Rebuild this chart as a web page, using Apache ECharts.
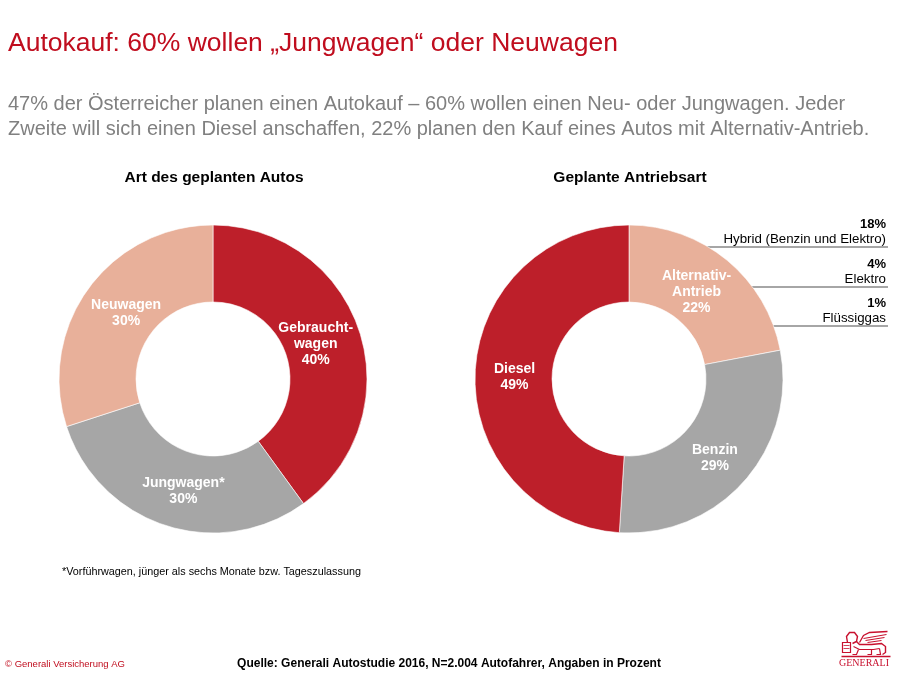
<!DOCTYPE html>
<html>
<head>
<meta charset="utf-8">
<script src="https://cdn.jsdelivr.net/npm/echarts@6/dist/echarts.min.js"></script>
<style>html,body{margin:0;padding:0;background:#fff}#c{width:900px;height:684px}</style>
</head>
<body>
<div id="c"></div>
<script>
// Data
const typeCategories = ['Gebraucht-\nwagen', 'Jungwagen*', 'Neuwagen'];
const typeValues = [40, 30, 30];
const driveCategories = ['Alternativ-\nAntrieb', 'Benzin', 'Diesel'];
const driveValues = [22, 29, 49];
const altTypes = ['Hybrid (Benzin und Elektro)', 'Elektro', 'Flüssiggas'];
const altValues = [18, 4, 1];

const RED = '#BD1F2A', GREY = '#A6A6A6', PEACH = '#E8B09A', LOGO = '#C8102E';
const FONT = '"Liberation Sans", Arial, sans-serif';
const CX1 = 213, CX2 = 629, CY = 379, R_IN = 77, R_OUT = 154;

// label nudges (style only), same order as the categories
const typeLabelOffsets = [[-10, 2], [7, -1], [9, 4]];
const driveLabelOffsets = [[-8, 4], [-3, 1], [4, 2]];

const chart = echarts.init(document.getElementById('c'));

function pieData(cats, vals, colors, offsets) {
  return cats.map((c, i) => ({ name: c, value: vals[i], itemStyle: { color: colors[i] },
    label: { offset: offsets[i] } }));
}

const labelStyle = {
  show: true, position: 'inside', color: '#fff', fontFamily: FONT,
  fontWeight: 'bold', fontSize: 14, lineHeight: 16,
  formatter: p => p.name + '\n' + p.value + '%'
};

const legendGraphics = [];
const lineYs = [247, 287, 326];
altTypes.forEach((t, i) => {
  const y = lineYs[i];
  const dy = CY - y;
  const xStart = CX2 + Math.sqrt(R_OUT * R_OUT - dy * dy) - 2;
  legendGraphics.push({ type: 'text', right: 14, top: y - 29, z: 10,
    style: { text: altValues[i] + '%', font: 'bold 13px ' + FONT, fill: '#000', textAlign: 'right' } });
  legendGraphics.push({ type: 'text', right: 14, top: y - 14, z: 10,
    style: { text: t, font: '13.3px ' + FONT, fill: '#000', textAlign: 'right' } });
  legendGraphics.push({ type: 'line', z: 0,
    shape: { x1: xStart, y1: y, x2: 888, y2: y },
    style: { stroke: GREY, lineWidth: 2 } });
});

const st = w => ({ fill: 'none', stroke: LOGO, lineWidth: w });
const logo = { type: 'group', left: 839, top: 629, z: 10, children: [
  { type: 'rect', shape: { x: 1, y: 12, width: 8, height: 10 }, style: st(1.2) },
  { type: 'line', shape: { x1: 2, y1: 15, x2: 8, y2: 15 }, style: st(0.8) },
  { type: 'line', shape: { x1: 2, y1: 18, x2: 8, y2: 18 }, style: st(0.8) },
  { type: 'polyline', shape: { points: [[6, 12], [5, 6], [8, 2], [13, 2], [16, 6], [15, 11], [11, 13]] }, style: st(1.4) },
  { type: 'polyline', shape: { points: [[15, 11], [18, 14], [30, 14], [40, 13], [44, 16], [44, 22], [41, 24]] }, style: st(1.4) },
  { type: 'polyline', shape: { points: [[12, 16], [18, 19], [32, 19], [38, 18]] }, style: st(1.2) },
  { type: 'polyline', shape: { points: [[17, 19], [15, 24], [11, 24]] }, style: st(1.2) },
  { type: 'polyline', shape: { points: [[30, 19], [30, 24], [26, 24]] }, style: st(1.2) },
  { type: 'polyline', shape: { points: [[38, 18], [39, 24], [35, 24]] }, style: st(1.2) },
  { type: 'polyline', shape: { points: [[18, 12], [22, 5], [28, 2], [46, 1]] }, style: st(1.3) },
  { type: 'line', shape: { x1: 22, y1: 8, x2: 45, y2: 4 }, style: st(1) },
  { type: 'line', shape: { x1: 24, y1: 10, x2: 43, y2: 7 }, style: st(1) },
  { type: 'line', shape: { x1: 26, y1: 12, x2: 40, y2: 10 }, style: st(1) },
  { type: 'line', shape: { x1: 0, y1: 26, x2: 49, y2: 26 }, style: st(1.3) }
] };

const titleBase = { padding: 0 };
chart.setOption({
  animation: false,
  title: [
    Object.assign({ text: 'Autokauf: 60% wollen „Jungwagen“ oder Neuwagen', left: 8, top: 30,
      textStyle: { color: '#C00D1E', fontFamily: FONT, fontWeight: 'normal', fontSize: 26.5 } }, titleBase),
    Object.assign({ text: '47% der Österreicher planen einen Autokauf – 60% wollen einen Neu- oder Jungwagen. Jeder\nZweite will sich einen Diesel anschaffen, 22% planen den Kauf eines Autos mit Alternativ-Antrieb.',
      left: 8, top: 92,
      textStyle: { color: '#808080', fontFamily: FONT, fontWeight: 'normal', fontSize: 20, lineHeight: 25 } }, titleBase),
    Object.assign({ text: 'Art des geplanten Autos', left: 214, top: 170, textAlign: 'center',
      textStyle: { color: '#000', fontFamily: FONT, fontWeight: 'bold', fontSize: 15.5 } }, titleBase),
    Object.assign({ text: 'Geplante Antriebsart', left: 630, top: 170, textAlign: 'center',
      textStyle: { color: '#000', fontFamily: FONT, fontWeight: 'bold', fontSize: 15.5 } }, titleBase),
    Object.assign({ text: '*Vorführwagen, jünger als sechs Monate bzw. Tageszulassung', left: 62, top: 567,
      textStyle: { color: '#000', fontFamily: FONT, fontWeight: 'normal', fontSize: 10.8 } }, titleBase),
    Object.assign({ text: '© Generali Versicherung AG', left: 5, top: 659,
      textStyle: { color: '#C00D1E', fontFamily: FONT, fontWeight: 'normal', fontSize: 9.5 } }, titleBase),
    Object.assign({ text: 'Quelle: Generali Autostudie 2016, N=2.004 Autofahrer, Angaben in Prozent', left: 449, top: 658, textAlign: 'center',
      textStyle: { color: '#000', fontFamily: FONT, fontWeight: 'bold', fontSize: 12 } }, titleBase)
  ],
  graphic: legendGraphics.concat([
    { type: 'text', left: 839, top: 658, z: 10,
      style: { text: 'GENERALI', font: '10px "Liberation Serif", "DejaVu Serif", serif', fill: LOGO } },
    logo
  ]),
  series: [
    { type: 'pie', center: [CX1, CY], radius: [R_IN, R_OUT], startAngle: 90, clockwise: true,
      z: 2, silent: true, label: labelStyle, labelLine: { show: false },
      itemStyle: { borderColor: '#fff', borderWidth: 0.6 },
      data: pieData(typeCategories, typeValues, [RED, GREY, PEACH], typeLabelOffsets) },
    { type: 'pie', center: [CX2, CY], radius: [R_IN, R_OUT], startAngle: 90, clockwise: true,
      z: 2, silent: true, label: labelStyle, labelLine: { show: false },
      itemStyle: { borderColor: '#fff', borderWidth: 0.6 },
      data: pieData(driveCategories, driveValues, [PEACH, GREY, RED], driveLabelOffsets) }
  ]
});
</script>
</body>
</html>
